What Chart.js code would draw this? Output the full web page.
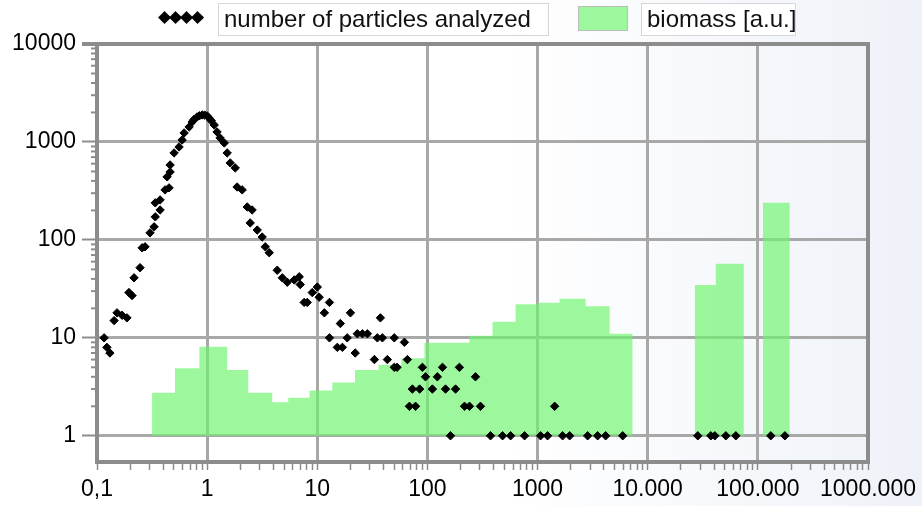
<!DOCTYPE html>
<html>
<head>
<meta charset="utf-8">
<title>Particles and biomass</title>
<script src="https://cdn.jsdelivr.net/npm/chart.js@4/dist/chart.umd.min.js"></script>
<style>
  html, body { margin: 0; padding: 0; }
  body {
    width: 922px; height: 506px; overflow: hidden;
    background: linear-gradient(to right, #ffffff 0%, #ffffff 55%, #eef2f8 100%);
    font-family: "Liberation Sans", Arial, sans-serif;
  }
  #wrap { position: relative; width: 922px; height: 506px; }
  #chart { position: absolute; left: 0; top: 0; }
  .marks { position: absolute; left: 158px; top: 6px; font-size: 17px; line-height: 22px; letter-spacing: -2px; color: #000; }
  .box {
    position: absolute; top: 3px; height: 33px; box-sizing: border-box;
    background: #fff; border: 1px solid #d6d6d6; color: #111;
    font-size: 24px; line-height: 30px; padding-left: 5px; white-space: nowrap;
  }
  .swatch { position: absolute; left: 578px; top: 6px; width: 50px; height: 25px; box-sizing: border-box; background: #9cf89c; border: 1px solid #bdbdbd; }
</style>
</head>
<body>
<div id="wrap">
  <canvas id="chart" width="922" height="506"></canvas>
  <div class="marks">&#9670;&#9670;&#9670;&#9670;</div>
  <div class="box" style="left:218px;width:331px;">number of particles analyzed</div>
  <div class="swatch"></div>
  <div class="box" style="left:641px;width:155px;">biomass [a.u.]</div>
</div>
<script>
// axis ticks
const xDecades = [0.1, 1, 10, 100, 1000, 10000, 100000, 1000000];
const xTickLabels = ['0,1', '1', '10', '100', '1000', '10.000', '100.000', '1000.000'];
const yDecades = [1, 10, 100, 1000, 10000];
const yTickLabels = ['1', '10', '100', '1000', '10000'];

// number of particles analyzed per size class
const particleSize = [
  0.116, 0.123, 0.131, 0.143, 0.152, 0.169, 0.187, 0.195, 0.208, 0.217,
  0.246, 0.257, 0.273, 0.303, 0.33, 0.338, 0.338, 0.374, 0.374, 0.415,
  0.433, 0.451, 0.461, 0.461, 0.501, 0.556, 0.593, 0.618, 0.686, 0.731,
  0.76, 0.811, 0.85, 0.901, 0.95, 1.0, 1.04, 1.09, 1.16, 1.23,
  1.31, 1.43, 1.52, 1.62, 1.8, 1.87, 2.08, 2.31, 2.46, 2.56,
  2.85, 3.16, 3.37, 3.66, 4.33, 4.81, 5.34, 6.18, 6.86, 7.0,
  7.6, 8.11, 9.0, 10, 10.4, 11.6, 12.9, 12.9, 15.2, 16.2,
  16.9, 18.7, 20, 22.1, 23.1, 25.7, 28.5, 33, 35.1, 37.4,
  39, 43.3, 50, 50, 53, 61.8, 65.8, 68.6, 73, 78,
  85, 90, 96, 111, 123, 137, 146, 162, 180, 195,
  217, 241, 273, 303, 374, 481, 569, 762, 1065, 1233,
  1429, 1688, 1955, 2848, 3510, 4150, 5929, 28500, 37400, 40700,
  51200, 63100, 131000, 176000
];
const particleCount = [
  10, 8, 7, 15, 18, 17, 16, 29, 27, 41,
  52, 83, 85, 118, 136, 172, 239, 202, 256, 324,
  440, 340, 494, 582, 772, 889, 1048, 1236, 1422, 1600,
  1700, 1800, 1850, 1887, 1880, 1842, 1757, 1650, 1490, 1265,
  1099, 977, 772, 611, 543, 347, 324, 217, 149, 202,
  126, 107, 85, 74, 49, 41, 37, 39, 42, 35,
  23, 23, 29, 33, 26, 18, 23, 10, 8, 14,
  8, 10, 18, 7, 11, 11, 11, 6, 10, 16,
  10, 6, 10, 5, 5, 9, 6, 2, 3, 2,
  3, 5, 4, 3, 4, 5, 3, 1, 3, 5,
  2, 2, 4, 2, 1, 1, 1, 1, 1, 1,
  2, 1, 1, 1, 1, 1, 1, 1, 1, 1,
  1, 1, 1, 1
];

// biomass histogram: bin edges and the value of each bin, in three runs
const biomassEdges = [
  0.316, 0.51, 0.85, 1.52, 2.36, 3.9, 5.45, 8.5, 13.7, 22, 36,
  58, 94, 149, 241, 390, 631, 1000, 1585, 2730, 4510, 7300
];
const biomassValues = [
  2.75, 4.9, 8.1, 4.7, 2.75, 2.2, 2.45, 2.9, 3.5, 4.7, 5.3,
  6.2, 8.9, 8.9, 10.5, 14.6, 22, 22.8, 25, 21, 11
];
const biomassEdgesMid = [26700, 41500, 74600];
const biomassValuesMid = [34.7, 57];
const biomassEdgesHigh = [111000, 195000];
const biomassValuesHigh = [239];

const GRID = '#a8a8a8';
const FRAME = '#8c8c8c';
const GREEN = 'rgba(110, 245, 110, 0.68)';

function isDecade(v) {
  const l = Math.log10(v);
  return Math.abs(l - Math.round(l)) < 1e-6;
}

function logTicks(min, max) {
  const ticks = [];
  for (let e = Math.floor(Math.log10(min)); e <= Math.ceil(Math.log10(max)); e++) {
    for (let m = 1; m <= 9; m++) {
      const v = m * Math.pow(10, e);
      if (v >= min * 0.999 && v <= max * 1.001) ticks.push({ value: v });
    }
  }
  return ticks;
}

// value of bin i holds until the next edge
function steps(edges, values) {
  return edges.map((x, i) => ({ x: x, y: values[Math.min(i, values.length - 1)] }));
}

function biomassSet(edges, values) {
  return {
    type: 'line',
    data: steps(edges, values),
    stepped: 'before',
    borderWidth: 0,
    borderColor: 'transparent',
    backgroundColor: GREEN,
    pointRadius: 0,
    fill: { value: 1 }
  };
}

// short ticks between decades on the y axis, plus the heavy top and right frame
const framePlugin = {
  id: 'frame',
  beforeDatasetsDraw(chart) {
    const { ctx, chartArea: a, scales } = chart;
    ctx.save();
    ctx.strokeStyle = FRAME;
    ctx.lineWidth = 2;
    scales.y.ticks.forEach(t => {
      if (isDecade(t.value)) return;
      const y = scales.y.getPixelForValue(t.value);
      ctx.beginPath();
      ctx.moveTo(a.left - 6, y);
      ctx.lineTo(a.left, y);
      ctx.stroke();
    });
    ctx.lineWidth = 4;
    ctx.beginPath();
    ctx.moveTo(a.left - 15, a.top);
    ctx.lineTo(a.right, a.top);
    ctx.lineTo(a.right, a.bottom);
    ctx.stroke();
    ctx.restore();
  }
};

const tickFont = { family: '"Liberation Sans", Arial, sans-serif', size: 23 };

new Chart(document.getElementById('chart'), {
  type: 'scatter',
  data: {
    datasets: [
      {
        label: 'number of particles analyzed',
        data: particleSize.map((x, i) => ({ x: x, y: particleCount[i] })),
        pointStyle: 'rectRot',
        pointRadius: 4.2,
        backgroundColor: '#000',
        borderColor: '#000',
        borderWidth: 1
      },
      Object.assign(biomassSet(biomassEdges, biomassValues), { label: 'biomass [a.u.]' }),
      biomassSet(biomassEdgesMid, biomassValuesMid),
      biomassSet(biomassEdgesHigh, biomassValuesHigh)
    ]
  },
  options: {
    responsive: false,
    animation: false,
    devicePixelRatio: 1,
    layout: { padding: { top: 44, right: 54, left: 0, bottom: 0 } },
    plugins: { legend: { display: false }, tooltip: { enabled: false } },
    scales: {
      x: {
        type: 'logarithmic',
        min: 0.1,
        max: 1000000,
        afterBuildTicks: s => { s.ticks = logTicks(0.1, 1000000); },
        afterFit: s => { s.height = 44; },
        border: { color: FRAME, width: 4 },
        grid: {
          color: c => (c.tick && isDecade(c.tick.value) ? GRID : 'transparent'),
          lineWidth: 3,
          tickColor: FRAME,
          tickWidth: 1.5,
          tickLength: 8
        },
        ticks: {
          autoSkip: false,
          maxRotation: 0,
          padding: 6,
          color: '#000',
          font: tickFont,
          callback: v => (isDecade(v) ? xTickLabels[Math.round(Math.log10(v)) + 1] : '')
        }
      },
      y: {
        type: 'logarithmic',
        min: 0.54,
        max: 10000,
        afterBuildTicks: s => { s.ticks = logTicks(1, 10000); },
        afterFit: s => { s.width = 97; },
        border: { color: FRAME, width: 4 },
        grid: {
          color: c => (c.tick && isDecade(c.tick.value) ? GRID : 'transparent'),
          lineWidth: 3,
          tickColor: c => (c.tick && isDecade(c.tick.value) ? FRAME : 'transparent'),
          tickWidth: 2,
          tickLength: 15
        },
        ticks: {
          autoSkip: false,
          padding: 6,
          color: '#000',
          font: tickFont,
          callback: v => (isDecade(v) ? yTickLabels[Math.round(Math.log10(v))] : '')
        }
      }
    }
  },
  plugins: [framePlugin]
});
</script>
</body>
</html>
